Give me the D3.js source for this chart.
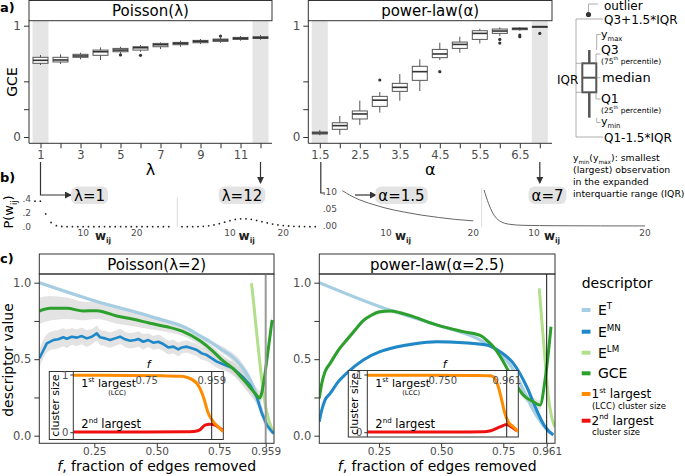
<!DOCTYPE html>
<html><head><meta charset="utf-8">
<script src="https://cdn.jsdelivr.net/npm/d3@7"></script>
<style>body{margin:0;background:#fff;} svg{display:block;}</style>
</head><body>
<script>
// ================= DATA =================
// panel a — Poisson(λ) boxplots of GCE
const lambdaCats = [1,2,3,4,5,6,7,8,9,10,11,12];
const lambdaTickLabels = ["1","","3","","5","","7","","9","","11",""];
const lambdaLo  = [.647,.656,.698,.692,.751,.766,.790,.811,.835,.847,.865,.874];
const lambdaQ1  = [.662,.674,.716,.734,.766,.781,.811,.829,.847,.859,.877,.886];
const lambdaMed = [.689,.692,.728,.766,.781,.802,.829,.841,.859,.871,.886,.892];
const lambdaQ3  = [.716,.716,.743,.781,.796,.811,.841,.850,.868,.880,.895,.901];
const lambdaHi  = [.737,.743,.757,.805,.811,.826,.850,.865,.880,.892,.907,.916];
const lambdaOutCat = [5,6,10];
const lambdaOutVal = [.737,.734,.907];

// panel a — power-law(α) boxplots of GCE
const alphaCats = [1.5,2,2.5,3,3.5,4,4.5,5,5.5,6,6.5,7];
const alphaTickLabels = ["1.5","","2.5","","3.5","","4.5","","5.5","","6.5",""];
const alphaLo  = [.015,.020,.108,.219,.326,.413,.692,.757,.840,.907,.955,.982];
const alphaQ1  = [.027,.069,.162,.275,.410,.509,.713,.796,.877,.931,.964,.985];
const alphaMed = [.036,.102,.207,.331,.446,.587,.746,.832,.931,.952,.973,.991];
const alphaQ3  = [.045,.128,.234,.365,.482,.635,.787,.853,.955,.970,.979,.994];
const alphaHi  = [.063,.189,.327,.404,.566,.698,.847,.901,.973,.985,.988,.997];
const alphaOutCat = [3,4.5,6,6,6.5,6.5,7];
const alphaOutVal = [.512,.587,.877,.844,.916,.901,.931];
const gceTicks = [0,0.25,0.5,1];

// panel b — weight distributions
const wij = [1,2,3,4,5,6,7,8,9,10,11,12,13,14,15,16,17,18,19,20,21,22,23,24,25,26];
const pLambda1  = [.368,.368,.184,.061,.015,.003,.001,0,0,0,0,0,0,0,0,0,0,0,0,0,0,0,0,0,0,0];
const pLambda12 = [0,0,0,.002,.005,.013,.026,.044,.066,.087,.105,.114,.114,.106,.091,.072,.054,.038,.026,.016,.010,.006,.003,.002,.001,0];
const pTicks = [0,0.2,0.4];
const wAlpha15 = [5,6,7,8,9,10,12,14,16,18,20];
const pAlpha15 = [.103,.088,.076,.067,.059,.052,.041,.032,.025,.019,.015];
const wAlpha7 = [5.5,5.9,6.3,6.9,7.8,9,12,16,20];
const pAlpha7 = [.105,.066,.037,.015,.005,.002,.0008,.0003,.0002];
const pAlphaTicks = [0,0.05,0.10];
const wTicks = [10,20];

// panel c — descriptors vs f  ([f, value, ribbon half-width])
const eTLeft = [[.03,1.0,.01],[.15,.935,.01],[.273,.87,.01],[.4,.815,.01],[.5,.767,.01],[.62,.702,.01],[.673,.652,.012],[.713,.614,.015],[.753,.571,.02],[.799,.527,.025],[.829,.49,.03],[.859,.435,.03],[.889,.364,.03],[.911,.288,.03],[.926,.222,.03],[.949,.124,.025],[.971,.059,.02],[.994,.016,.01]];
const eMNLeft = [[.030,.505,.06],[.060,.603,.06],[.086,.625,.06],[.106,.630,.06],[.126,.643,.06],[.140,.634,.06],[.160,.647,.055],[.180,.641,.055],[.200,.651,.055],[.220,.636,.055],[.240,.647,.05],[.260,.669,.05],[.273,.643,.05],[.293,.636,.05],[.313,.625,.05],[.333,.636,.05],[.353,.647,.05],[.373,.630,.05],[.393,.621,.05],[.413,.625,.05],[.426,.632,.05],[.446,.614,.05],[.466,.625,.045],[.486,.608,.045],[.506,.614,.045],[.526,.599,.045],[.546,.577,.045],[.566,.582,.045],[.586,.564,.045],[.600,.577,.04],[.620,.582,.04],[.640,.571,.04],[.660,.560,.04],[.680,.538,.04],[.700,.527,.04],[.720,.505,.04],[.740,.484,.04],[.762,.47,.04],[.787,.455,.04],[.813,.44,.045],[.836,.41,.045],[.859,.38,.05],[.889,.33,.05],[.919,.25,.05],[.941,.15,.04],[.964,.07,.03],[.994,.015,.01]];
const eLMLeft = [[.895,.996,.04],[.905,.865,.05],[.920,.647,.06],[.936,.43,.06],[.951,.255,.05],[.973,.10,.04],[.996,.02,.02]];
const gceLeft = [[.03,.815,.085],[.073,.833,.08],[.14,.833,.07],[.206,.815,.06],[.26,.817,.055],[.34,.782,.05],[.406,.761,.045],[.473,.735,.04],[.54,.712,.035],[.606,.68,.03],[.673,.62,.03],[.726,.55,.03],[.766,.49,.035],[.811,.44,.04],[.856,.37,.045],[.886,.32,.05],[.909,.28,.05],[.923,.255,.05],[.931,.246,.05],[.943,.29,.05],[.954,.386,.05],[.966,.516,.05],[.976,.625,.05],[.988,.756,.05]];

const eTRight = [[.01,1.0,.005],[.254,.843,.005],[.482,.724,.008],[.657,.625,.01],[.737,.539,.015],[.799,.43,.02],[.847,.30,.02],[.896,.168,.02],[.937,.081,.015],[.977,.016,.01]];
const eMNRight = [[.01,.092,.01],[.02,.168,.01],[.033,.233,.01],[.054,.277,.01],[.085,.35,.01],[.12,.408,.01],[.187,.495,.01],[.254,.549,.01],[.32,.58,.01],[.388,.60,.01],[.482,.614,.01],[.589,.608,.01],[.683,.593,.01],[.737,.549,.012],[.799,.473,.015],[.864,.32,.02],[.912,.168,.02],[.953,.059,.015],[.993,.005,.01]];
const eLMRight = [[.925,.963,.02],[.937,.756,.03],[.953,.495,.03],[.969,.255,.03],[.985,.124,.02],[1.0,.059,.01]];
const gceRight = [[.01,.244,.02],[.02,.342,.02],[.033,.418,.02],[.054,.473,.02],[.087,.56,.02],[.12,.625,.02],[.154,.691,.02],[.187,.752,.015],[.221,.789,.015],[.254,.81,.015],[.294,.815,.012],[.335,.804,.012],[.388,.778,.01],[.482,.724,.01],[.589,.68,.01],[.657,.655,.01],[.683,.625,.012],[.71,.582,.015],[.75,.484,.02],[.799,.364,.02],[.847,.266,.025],[.896,.222,.03],[.929,.20,.03],[.953,.364,.03],[.969,.539,.03],[.982,.712,.02]];

// insets — cluster sizes
const lccLeft = [[.514,.995],[.6,.995],[.7,.993],[.8,.985],[.857,.98],[.879,.96],[.911,.856],[.932,.624],[.948,.336],[.964,.19],[.980,.10],[.996,.017]];
const secondLeft = [[.514,.01],[.75,.01],[.87,.015],[.90,.02],[.921,.05],[.9375,.13],[.953,.145],[.9696,.13],[.9857,.076],[.996,.035]];
const lccRight = [[.5,.995],[.7,.995],[.85,.99],[.906,.985],[.917,.97],[.933,.80],[.9445,.566],[.955,.335],[.966,.19],[.983,.10],[.999,.017]];
const secondRight = [[.5,.01],[.8,.01],[.88,.015],[.895,.02],[.917,.05],[.939,.10],[.961,.14],[.9775,.10],[.994,.035]];
const descYTicks = [0,0.25,0.5,0.75,1];
const fTicksLeft = [0.25,0.5,0.75,0.959];
const fTicksRight = [0.25,0.5,0.75,0.961];

const colET = "#a6cee3", colEMN = "#1f88c8", colELM = "#b2df8a", colGCE = "#2ca02c", colLCC = "#ff8c00", col2nd = "#f01010";

// ================= DRAW =================
const svg = d3.select("body").append("svg").attr("width",685).attr("height",476)
  .style("font-family","'DejaVu Sans', sans-serif");
const defs = svg.append("defs");
defs.append("marker").attr("id","arr").attr("viewBox","0 0 8 8").attr("refX",7).attr("refY",4)
  .attr("markerWidth",7).attr("markerHeight",7).attr("markerUnits","userSpaceOnUse").attr("orient","auto")
  .append("path").attr("d","M0,0L8,4L0,8z").attr("fill","#333");

const tickCol = "#4d4d4d";
function rich(g,x,y,parts,size,attrs={}){
  const t = g.append("text").attr("x",x).attr("y",y).attr("font-size",size);
  for (const k in attrs) t.attr(k,attrs[k]);
  let cur = 0;
  parts.forEach(p=>{
    const [s,kind] = typeof p==="string" ? [p,"n"] : p;
    const target = kind==="sup" ? -size*0.42 : kind==="sub" ? size*0.28 : 0;
    const ts = t.append("tspan").attr("dy",target-cur).text(s);
    if (kind!=="n") ts.attr("font-size",size*0.62);
    cur = target;
  });
  return t;
}
function styleAxis(sel,size){
  sel.select(".domain").remove();
  sel.selectAll(".tick line").attr("stroke","#333");
  sel.selectAll(".tick text").attr("fill",tickCol).attr("font-size",size).attr("font-family","'DejaVu Sans', sans-serif");
}

// panel letters
svg.append("text").attr("x",0).attr("y",12).attr("font-size",13).attr("font-weight","bold").text("a)");
svg.append("text").attr("x",0).attr("y",182).attr("font-size",13).attr("font-weight","bold").text("b)");
svg.append("text").attr("x",0).attr("y",263).attr("font-size",13).attr("font-weight","bold").text("c)");

// ---------- panel a ----------
function boxPanel(cats,tickLabels,lo,q1,med,q3,hi,outC,outV,L,R,title,xTitle,yTitle){
  const g = svg.append("g");
  const top = 20.7, bot = 143.3;
  const x = d3.scalePoint().domain(cats).range([L+11.5,L+231.5]);
  const y = d3.scaleLinear().domain([0,1]).range([137,25.7]);
  [cats[0],cats[cats.length-1]].forEach(c=>{
    g.append("rect").attr("x",x(c)-8).attr("y",top).attr("width",16).attr("height",bot-top).attr("fill","#e5e5e5");
  });
  g.append("rect").attr("x",L).attr("y",0.5).attr("width",R-L).attr("height",top-0.5)
    .attr("fill","#fff").attr("stroke","#333");
  g.append("text").attr("x",(L+R)/2).attr("y",16).attr("text-anchor","middle").attr("font-size",15).text(title);
  const ya = g.append("g").attr("transform",`translate(${L},0)`)
    .call(d3.axisLeft(y).tickValues(gceTicks).tickSize(5).tickFormat(d=>d===0?"0":d===1?"1":""));
  styleAxis(ya,12);
  const xa = g.append("g").attr("transform",`translate(0,${bot})`)
    .call(d3.axisBottom(x).tickSize(5).tickFormat((d,i)=>tickLabels[i]));
  styleAxis(xa,11.5);
  g.append("line").attr("x1",L).attr("x2",L).attr("y1",top).attr("y2",bot).attr("stroke","#333");
  g.append("line").attr("x1",L).attr("x2",R).attr("y1",bot).attr("y2",bot).attr("stroke","#333");
  cats.forEach((c,i)=>{
    const cx = x(c);
    g.append("line").attr("x1",cx).attr("x2",cx).attr("y1",y(lo[i])).attr("y2",y(hi[i])).attr("stroke","#555");
    g.append("rect").attr("x",cx-7.5).attr("width",15).attr("y",y(q3[i])).attr("height",y(q1[i])-y(q3[i]))
      .attr("fill","#fff").attr("stroke","#555");
    g.append("line").attr("x1",cx-7.5).attr("x2",cx+7.5).attr("y1",y(med[i])).attr("y2",y(med[i]))
      .attr("stroke","#333").attr("stroke-width",1.6);
  });
  outC.forEach((c,i)=>{
    g.append("circle").attr("cx",x(c)).attr("cy",y(outV[i])).attr("r",1.6).attr("fill","#333");
  });
  g.append("text").attr("x",(L+R)/2).attr("y",175).attr("text-anchor","middle").attr("font-size",16).text(xTitle);
  if (yTitle) g.append("text").attr("transform",`translate(17,${(top+bot)/2}) rotate(-90)`)
    .attr("text-anchor","middle").attr("font-size",14).text(yTitle);
  return x;
}
const xLam = boxPanel(lambdaCats,lambdaTickLabels,lambdaLo,lambdaQ1,lambdaMed,lambdaQ3,lambdaHi,lambdaOutCat,lambdaOutVal,29,272,"Poisson(λ)","λ","GCE");
const xAlp = boxPanel(alphaCats,alphaTickLabels,alphaLo,alphaQ1,alphaMed,alphaQ3,alphaHi,alphaOutCat,alphaOutVal,308.3,552,"power-law(α)","α",null);

// boxplot legend
(function(){
  const lg = svg.append("g"); const lc = "#999";
  const ln=(x1,y1,x2,y2)=>lg.append("line").attr("x1",x1).attr("y1",y1).attr("x2",x2).attr("y2",y2).attr("stroke",lc).attr("stroke-width",0.8);
  lg.append("circle").attr("cx",588.5).attr("cy",14.5).attr("r",2.6).attr("fill","#333");
  ln(588.5,4,588.5,12); ln(588.5,4,598,4);
  lg.append("text").attr("x",604).attr("y",10).attr("font-size",12).text("outlier");
  ln(576,19,603,19); ln(576,19,576,137); ln(576,137,603,137);
  lg.append("text").attr("x",604).attr("y",23.5).attr("font-size",12).text("Q3+1.5*IQR");
  lg.append("text").attr("x",604).attr("y",141.5).attr("font-size",12).text("Q1-1.5*IQR");
  lg.append("line").attr("x1",589.3).attr("x2",589.3).attr("y1",50).attr("y2",117.7).attr("stroke","#555").attr("stroke-width",2.5);
  lg.append("rect").attr("x",582.3).attr("y",63.3).attr("width",14).attr("height",29).attr("fill","#fff").attr("stroke","#555").attr("stroke-width",2);
  lg.append("line").attr("x1",582.3).attr("x2",596.3).attr("y1",77.7).attr("y2",77.7).attr("stroke","#555").attr("stroke-width",2);
  ln(576,63.3,582,63.3); ln(576,92.3,582,92.3);
  lg.append("text").attr("x",557).attr("y",84).attr("font-size",12).text("IQR");
  ln(596.7,34.5,600.5,34.5); ln(596.7,34.5,596.7,50);
  rich(lg,601,37.5,["y",["max","sub"]],11);
  ln(596,54,600.5,54); ln(596,54,596,63.3);
  lg.append("text").attr("x",601).attr("y",54).attr("font-size",12.5).text("Q3");
  rich(lg,601,63.5,["(75",["th","sup"]," percentile)"],7.5);
  ln(596.3,77.7,600.5,77.7);
  lg.append("text").attr("x",602).attr("y",81.5).attr("font-size",13).text("median");
  ln(596,92.3,596,99); ln(596,99,600.5,99);
  lg.append("text").attr("x",601).attr("y",103).attr("font-size",12.5).text("Q1");
  rich(lg,601,112.5,["(25",["th","sup"]," percentile)"],7.5);
  ln(596.7,117.7,596.7,122.5); ln(596.7,122.5,600.5,122.5);
  rich(lg,601,125,["y",["min","sub"]],11);
  rich(lg,573,161,["y",["min","sub"],"(y",["max","sub"],"): smallest"],9.3);
  lg.append("text").attr("x",573).attr("y",173).attr("font-size",9.3).text("(largest)  observation");
  lg.append("text").attr("x",573).attr("y",185).attr("font-size",9.3).text("in the expanded");
  lg.append("text").attr("x",573).attr("y",197).attr("font-size",9.3).text("interquartie range (IQR)");
})();

// ---------- panel b ----------
(function(){
  const g = svg.append("g");
  const yP = d3.scaleLinear().domain([0,0.4]).range([226.7,199]);
  const yA = d3.scaleLinear().domain([0,0.1]).range([226,191.7]);
  const x1 = d3.scaleLinear().domain([1,26]).range([35,168.75]);
  const x2 = d3.scaleLinear().domain([1,26]).range([182,315.25]);
  const x3 = d3.scaleLinear().domain([10,20]).range([386,473.3]);
  const x4 = d3.scaleLinear().domain([10,20]).range([534,645]);
  wij.forEach((w,i)=>{
    g.append("circle").attr("cx",x1(w)).attr("cy",yP(pLambda1[i])).attr("r",0.9).attr("fill","#222");
    g.append("circle").attr("cx",x2(w)).attr("cy",yP(pLambda12[i])).attr("r",0.9).attr("fill","#222");
  });
  const line3 = d3.line().x((d,i)=>x3(wAlpha15[i])).y(d=>yA(d)).curve(d3.curveMonotoneX);
  g.append("path").attr("d",line3(pAlpha15)).attr("fill","none").attr("stroke","#666").attr("stroke-width",1);
  const line4 = d3.line().x((d,i)=>x4(wAlpha7[i])).y(d=>yA(d)).curve(d3.curveMonotoneX);
  g.append("path").attr("d",line4(pAlpha7)).attr("fill","none").attr("stroke","#666").attr("stroke-width",1);
  // separators
  g.append("line").attr("x1",177.3).attr("x2",177.3).attr("y1",197).attr("y2",227).attr("stroke","#ddd");
  g.append("line").attr("x1",481.7).attr("x2",481.7).attr("y1",188).attr("y2",227).attr("stroke","#ddd");
  // y tick labels
  pTicks.forEach(t=>g.append("text").attr("x",31).attr("y",yP(t)+3).attr("text-anchor","end").attr("font-size",9).attr("fill",tickCol).text(d3.format(".1f")(t).replace(/^0/,"")));
  pAlphaTicks.forEach(t=>g.append("text").attr("x",337).attr("y",yA(t)+3).attr("text-anchor","end").attr("font-size",9).attr("fill",tickCol).text(d3.format(".2f")(t).replace(/^0/,"")));
  // x tick labels
  [x1,x2,x3,x4].forEach(sc=>{
    wTicks.forEach(t=>g.append("text").attr("x",sc(t)).attr("y",236).attr("text-anchor","middle").attr("font-size",9).attr("fill",tickCol).text(t));
  });
  [103,246.7,403,552].forEach(cx=>rich(g,cx,240,["w",["ij","sub"]],12,{"text-anchor":"middle","font-weight":"bold","fill":"#222"}));
  rich(g,0,0,["P(w",["ij","sub"],")"],13,{"text-anchor":"middle","transform":"translate(13,212) rotate(-90)"});
  // arrows from panel a
  const ac="#333";
  g.append("path").attr("d",`M${xLam(1)},162V195H71`).attr("fill","none").attr("stroke",ac).attr("stroke-width",1.2).attr("marker-end","url(#arr)");
  g.append("path").attr("d",`M${xLam(12)},162V183`).attr("fill","none").attr("stroke",ac).attr("stroke-width",1.2).attr("marker-end","url(#arr)");
  g.append("path").attr("d",`M${xAlp(1.5)+1},162V193H325`).attr("fill","none").attr("stroke",ac).attr("stroke-width",1.2);
  g.append("path").attr("d",`M355,195H376`).attr("fill","none").attr("stroke",ac).attr("stroke-width",1.2).attr("marker-end","url(#arr)");
  g.append("path").attr("d",`M${xAlp(7)},162V183`).attr("fill","none").attr("stroke",ac).attr("stroke-width",1.2).attr("marker-end","url(#arr)");
  // pills
  [["λ=1",89.5],["λ=12",242],["α=1.5",401.5],["α=7",547.5]].forEach(([s,cx])=>{
    const pg = g.append("g");
    const r = pg.append("rect").attr("fill","#e3e3e3").attr("rx",6);
    const t = pg.append("text").attr("x",cx).attr("y",200.5).attr("text-anchor","middle").attr("font-size",15).text(s);
    const b = t.node().getBBox();
    r.attr("x",b.x-3).attr("y",186.5).attr("width",b.width+6).attr("height",17.5);
  });
})();

// ---------- panel c ----------
function descPanel(o){
  const g = svg.append("g");
  const T = 274, B = 443.3;
  const x = d3.scaleLinear().domain([0,0.75,1]).range(o.xr);
  const y = d3.scaleLinear().domain([0,1]).range([435.7,282.7]);
  const cid = "clip"+o.id;
  defs.append("clipPath").attr("id",cid).append("rect").attr("x",o.L).attr("y",T).attr("width",o.R-o.L).attr("height",B-T);
  g.append("rect").attr("x",o.L).attr("y",254).attr("width",o.R-o.L).attr("height",20).attr("fill","#fff").attr("stroke","#333");
  g.append("text").attr("x",(o.L+o.R)/2).attr("y",269.5).attr("text-anchor","middle").attr("font-size",15).text(o.title);
  const pg = g.append("g").attr("clip-path",`url(#${cid})`);
  const area = d3.area().x(d=>x(d[0])).y0(d=>y(d[1]-d[2])).y1(d=>y(d[1]+d[2])).curve(d3.curveMonotoneX);
  o.series.forEach(s=>pg.append("path").attr("d",area(s.data)).attr("fill","#d4d4d4").attr("opacity",0.65));
  o.series.forEach(s=>{
    const line = d3.line().x(d=>x(d[0])).y(d=>y(d[1])).curve(s.smooth?d3.curveMonotoneX:d3.curveLinear);
    pg.append("path").attr("d",line(s.data)).attr("fill","none").attr("stroke",s.color).attr("stroke-width",s.w).attr("stroke-linejoin","round");
  });
  const xv = x(o.vline);
  g.append("line").attr("x1",xv).attr("x2",xv).attr("y1",T).attr("y2",B).attr("stroke",o.vColor).attr("stroke-width",o.vWidth);
  // inset
  const I = o.inset;
  g.append("rect").attr("x",I.oL).attr("y",I.T).attr("width",I.R-I.oL).attr("height",I.B-I.T).attr("fill","#fff").attr("stroke","#333");
  const ix = d3.scaleLinear().domain([0.75,o.vline]).range(I.xr);
  const iy = d3.scaleLinear().domain([0,1]).range([432.7,375]);
  const icid = "iclip"+o.id;
  defs.append("clipPath").attr("id",icid).append("rect").attr("x",I.iL).attr("y",I.T).attr("width",I.R-I.iL).attr("height",I.B-I.T);
  const ig = g.append("g").attr("clip-path",`url(#${icid})`);
  const il = d3.line().x(d=>ix(d[0])).y(d=>iy(d[1])).curve(d3.curveMonotoneX);
  ig.append("path").attr("d",il(I.second)).attr("fill","none").attr("stroke",col2nd).attr("stroke-width",3);
  ig.append("path").attr("d",il(I.lcc)).attr("fill","none").attr("stroke",colLCC).attr("stroke-width",3);
  g.append("line").attr("x1",I.iL).attr("x2",I.iL).attr("y1",I.T).attr("y2",I.B).attr("stroke","#333");
  g.append("line").attr("x1",ix(o.vline)).attr("x2",ix(o.vline)).attr("y1",I.T).attr("y2",I.B).attr("stroke","#222");
  [0,1].forEach(v=>{
    g.append("line").attr("x1",I.iL-3).attr("x2",I.iL).attr("y1",iy(v)).attr("y2",iy(v)).attr("stroke","#333");
    g.append("text").attr("x",I.iL-5).attr("y",iy(v)+3.5).attr("text-anchor","end").attr("font-size",10).attr("fill",tickCol).text(v);
  });
  [[0.75,I.midLabel],[o.vline,o.lastLabel]].forEach(([v,s])=>g.append("text").attr("x",ix(v)).attr("y",384).attr("text-anchor","middle").attr("font-size",10).attr("fill",tickCol).text(s));
  g.append("text").attr("x",ix(0.75)+2).attr("y",368).attr("text-anchor","middle").attr("font-size",11).attr("font-style","italic").text("f");
  g.append("text").attr("transform",`translate(${I.oL+10},${(I.T+I.B)/2}) rotate(-90)`).attr("text-anchor","middle").attr("font-size",11).text("cluster size");
  rich(g,I.iL+8,387,["1",["st","sup"]," largest"],11);
  g.append("text").attr("x",I.iL+35).attr("y",395).attr("font-size",6.5).text("(LCC)");
  rich(g,I.iL+8,428,["2",["nd","sup"]," largest"],11.5);
  // frame & axes
  g.append("rect").attr("x",o.L).attr("y",T).attr("width",o.R-o.L).attr("height",B-T).attr("fill","none").attr("stroke","#333");
  const ya = g.append("g").attr("transform",`translate(${o.L},0)`)
    .call(d3.axisLeft(y).tickValues(descYTicks).tickSize(5).tickFormat(d=>d===0.25||d===0.75?"":d3.format(".1f")(d)));
  styleAxis(ya,11.5);
  const xa = g.append("g").attr("transform",`translate(0,${B})`)
    .call(d3.axisBottom(x).tickValues(o.fTicks).tickSize(4).tickPadding(0).tickFormat(d=>d>0.9?o.lastLabel:d3.format(".2f")(d)));
  styleAxis(xa,10.5);
  const tt = g.append("text").attr("x",(o.L+o.R)/2).attr("y",471).attr("text-anchor","middle").attr("font-size",14);
  tt.append("tspan").attr("font-style","italic").text("f");
  tt.append("tspan").text(", fraction of edges removed");
}
descPanel({id:"L",L:39.3,R:274,xr:[31.8,219.3,274.8],title:"Poisson(λ=2)",vline:0.959,lastLabel:"0.959",vColor:"#999",vWidth:2,fTicks:fTicksLeft,
  series:[{data:eTLeft,color:colET,w:3.2,smooth:true},{data:eLMLeft,color:colELM,w:3,smooth:true},{data:eMNLeft,color:colEMN,w:2.6,smooth:false},{data:gceLeft,color:colGCE,w:3,smooth:true}],
  inset:{oL:49.3,iL:73.3,R:223.3,T:371.5,B:439.5,xr:[146.7,211.7],lcc:lccLeft,second:secondLeft,midLabel:"0.75"}});
descPanel({id:"R",L:319.3,R:555,xr:[316.8,503.3,554.7],title:"power-law(α=2.5)",vline:0.961,lastLabel:"0.961",vColor:"#111",vWidth:1,fTicks:fTicksRight,
  series:[{data:eTRight,color:colET,w:3.2,smooth:true},{data:eLMRight,color:colELM,w:3,smooth:true},{data:eMNRight,color:colEMN,w:3,smooth:true},{data:gceRight,color:colGCE,w:3,smooth:true}],
  inset:{oL:348.3,iL:367.3,R:518.3,T:370.5,B:437,xr:[442.7,506.7],lcc:lccRight,second:secondRight,midLabel:"0.750"}});
svg.append("text").attr("transform","translate(13,360) rotate(-90)").attr("text-anchor","middle").attr("font-size",14).text("descriptor value");

// legend c
(function(){
  const g = svg.append("g");
  g.append("text").attr("x",581.7).attr("y",288).attr("font-size",14).text("descriptor");
  const items = [[colET,310,["E",["T","sup"]]],[colEMN,331.7,["E",["MN","sup"]]],[colELM,352.7,["E",["LM","sup"]]],[colGCE,373.3,["GCE"]]];
  items.forEach(([c,yy,parts])=>{
    g.append("line").attr("x1",581.7).attr("x2",590.5).attr("y1",yy).attr("y2",yy).attr("stroke",c).attr("stroke-width",4);
    rich(g,598,yy+5,parts,14);
  });
  g.append("line").attr("x1",581.7).attr("x2",590.5).attr("y1",394).attr("y2",394).attr("stroke",colLCC).attr("stroke-width",4);
  rich(g,591.5,398,["1",["st","sup"]," largest"],12);
  g.append("text").attr("x",592).attr("y",408.5).attr("font-size",8.5).text("(LCC) cluster size");
  g.append("line").attr("x1",581.7).attr("x2",590.5).attr("y1",420.7).attr("y2",420.7).attr("stroke",col2nd).attr("stroke-width",4);
  rich(g,591.5,424.5,["2",["nd","sup"]," largest"],12);
  g.append("text").attr("x",592).attr("y",435).attr("font-size",8.5).text("cluster size");
})();
</script>
</body></html>
